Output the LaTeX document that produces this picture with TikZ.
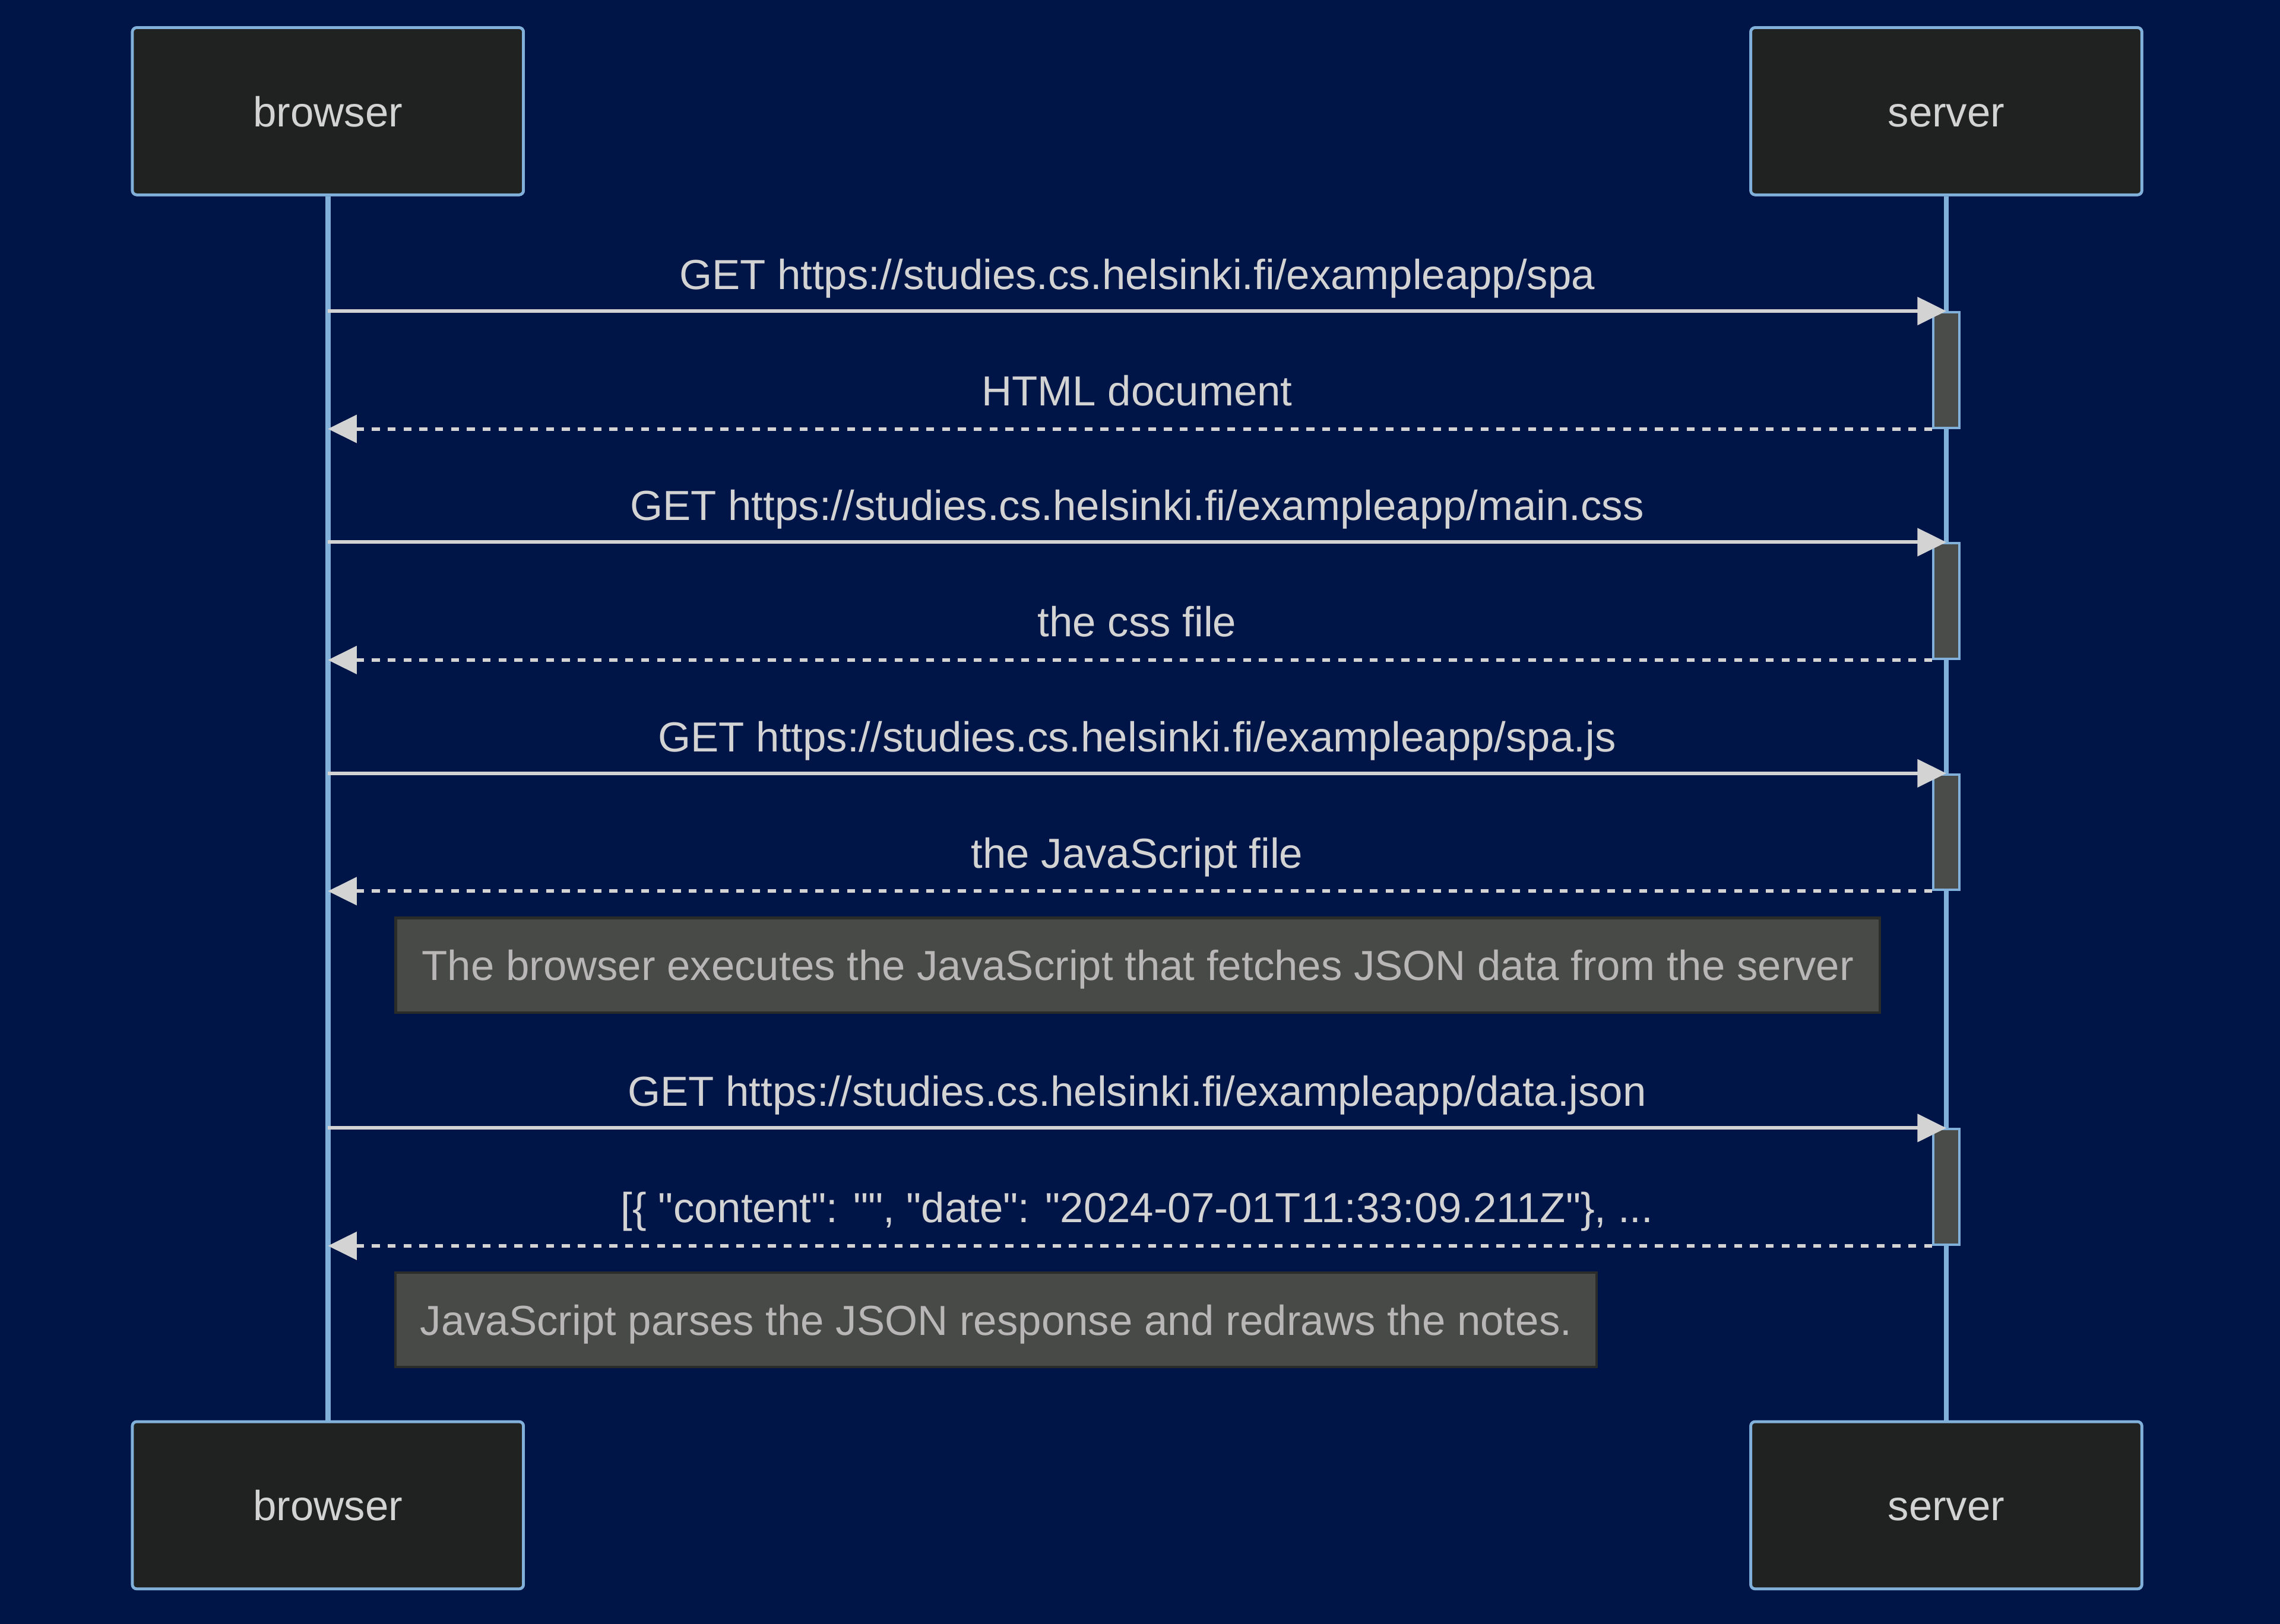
\documentclass[tikz,border=0pt]{standalone}
\usepackage{fontspec}
\setmainfont{Liberation Sans}[Ligatures=TeXOff]
\usetikzlibrary{positioning, arrows.meta}

\definecolor{bgblue}{RGB}{0,21,71}
\definecolor{actorfill}{RGB}{32,34,33}
\definecolor{actorline}{RGB}{129,177,219}
\definecolor{msgtext}{RGB}{211,211,211}
\definecolor{actfill}{RGB}{74,76,74}
\definecolor{notefill}{RGB}{72,74,72}
\definecolor{noteline}{RGB}{42,44,42}
\definecolor{notetext}{RGB}{184,182,182}

\begin{document}
\begin{tikzpicture}[
  x=0.02cm, y=0.02cm,
  font=\fontsize{16.45}{19.7}\selectfont,
  actor/.style={draw=actorline, fill=actorfill, line width=1.1pt, rounded corners=1.7pt,
               minimum width=5.38cm, minimum height=2.3cm, text=msgtext,
               text height=12pt, text depth=0pt},
  lifeline/.style={draw=actorline, line width=2pt},
  act/.style={draw=actorline, fill=actfill, line width=0.9pt, inner sep=0pt,
             minimum width=0.36cm, minimum height=1.59cm},
  msg/.style={-{Triangle[length=11.3pt, width=10.8pt]}, msgtext, line width=1.4pt},
  reply/.style={msg, dash pattern=on 3.1pt off 3.1pt},
  lbl/.style={anchor=base, text=msgtext, inner sep=0pt},
  note/.style={draw=noteline, fill=notefill, line width=1pt, text=notetext,
              minimum height=1.3cm, text height=12pt, text depth=0pt}
]
\useasboundingbox (0,0) rectangle (1568,-1117);
\fill[bgblue] (0,0) rectangle (1568,-1117);

\node[actor] (browsertop) at (225.5,-76.5) {};
\node[actor] (servertop)  at (1338.5,-76.5) {};
\node[actor] (browserbot) at (225.5,-1035.5) {};
\node[actor] (serverbot)  at (1338.5,-1035.5) {};
\draw[lifeline] (browsertop.south) -- (browserbot.north);
\draw[lifeline] (servertop.south)  -- (serverbot.north);
\node[actor] (browsera) at (browsertop) {browser};
\node[actor] (servera)  at (servertop)  {server};
\node[actor] (browserb) at (browserbot) {browser};
\node[actor] (serverb)  at (serverbot)  {server};

\node[act] (act1) at (1338.5,-254.5) {};
\node[act] (act2) at (1338.5,-413.5) {};
\node[act] (act3) at (1338.5,-572.5) {};
\node[act] (act4) at (1338.5,-816.5) {};

\draw[msg]   (browsertop |- act1.north) -- (act1.north);
\draw[reply] (act1.south west) -- (browsertop |- act1.south);
\draw[msg]   (browsertop |- act2.north) -- (act2.north);
\draw[reply] (act2.south west) -- (browsertop |- act2.south);
\draw[msg]   (browsertop |- act3.north) -- (act3.north);
\draw[reply] (act3.south west) -- (browsertop |- act3.south);
\draw[msg]   (browsertop |- act4.north) -- (act4.north);
\draw[reply] (act4.south west) -- (browsertop |- act4.south);

\node[lbl] (get1) at (782,-199) {GET https://studies.cs.helsinki.fi/exampleapp/spa};
\node[lbl] (res1) at (782,-279) {HTML document};
\node[lbl] (get2) at (782,-358) {GET https://studies.cs.helsinki.fi/exampleapp/main.css};
\node[lbl] (res2) at (782,-438) {the css file};
\node[lbl] (get3) at (782,-517) {GET https://studies.cs.helsinki.fi/exampleapp/spa.js};
\node[lbl] (res3) at (782,-597) {the JavaScript file};
\node[lbl] (get4) at (782,-761) {GET https://studies.cs.helsinki.fi/exampleapp/data.json};
\node[lbl] (res4) at (782,-841) {[\{ "content": "", "date": "2024-07-01T11:33:09.211Z"\}, ...};

\node[note, minimum width=20.42cm] (note1) at (782.5,-664)
  {The browser executes the JavaScript that fetches JSON data from the server};
\node[note, minimum width=16.52cm] (note2) at (685,-908)
  {JavaScript parses the JSON response and redraws the notes.};
\end{tikzpicture}
\end{document}
